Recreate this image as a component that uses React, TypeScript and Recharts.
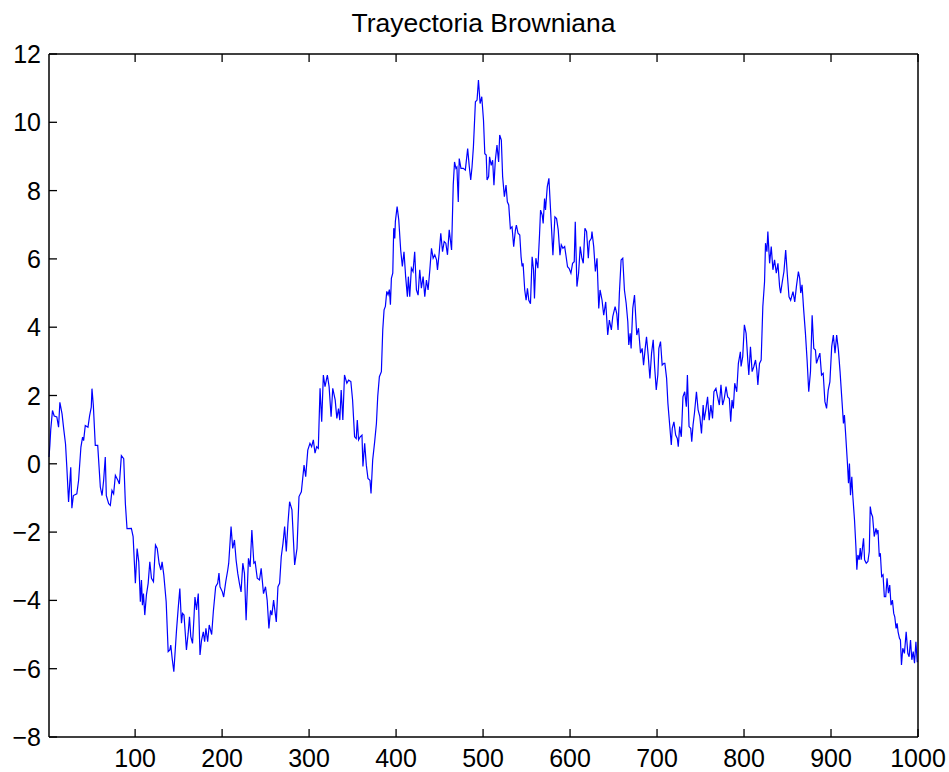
import React from "react";
import { LineChart, Line, XAxis, YAxis } from "recharts";

const steps = [
  1, 2, 3, 5, 7, 10, 12, 13.5, 16, 18, 20, 21.5, 23.5, 26, 27.3, 29, 33, 35, 37.7, 39.6, 40.8, 42.7, 45.8, 47.7, 49.6, 50.4, 52, 54.2, 57, 60, 62, 63.8, 65.7, 66.9, 69.6, 71.5, 73.4, 75.3, 77.3, 80.3, 81.9, 84.2, 86.9, 88.8, 90.7,
  95.7, 97.7, 100.3, 102.3, 104.2, 106, 107.3, 108.4, 109.6, 111.1, 113, 115, 116.9, 118.8, 121.1, 123.4, 125.4, 127.6, 129.6, 131, 133, 135.7, 138, 139.9, 141, 142.6, 144.5, 147.6, 149.5, 151.4, 153.3, 154.5, 156.2, 159, 161, 162.5, 164, 166, 167.6, 168.8, 170.6, 172.6, 174.6, 176.4, 178.4, 179.9, 181.4, 183.4, 185.2, 188, 189.9, 192.6, 194.9, 196.4, 197.6, 200.3, 201.8, 204.2, 206.5,
  207.6, 210.3, 212.2, 214.2, 216.1, 218, 219.9, 221.8, 223.8, 225.7, 227.6, 230.3, 232.2, 234.2, 236.5, 238, 240.4, 243, 244.9, 247.6, 249.9, 251.8, 253.8, 255.7, 257.2, 259.2, 262.3, 264.2, 266.1, 268, 270, 271.9, 273.8, 275.7, 277.6, 280.3, 283.4, 286.1, 288.4, 291.1, 294.2, 296.1,
  298.5, 301, 302.9, 304.9, 306.8, 308.7, 310.6, 312.6, 314.5, 316.4, 318.3, 321, 323, 325.3, 327.2, 330, 331.9, 333.8, 335.3, 336.9, 338.8, 340.7, 343.4, 345.4, 348, 350, 352.3, 354.2, 355.4, 356.9, 358.8, 360.8, 361.9, 363.9, 365.8, 367.7, 370, 371.2, 373.1, 375.4, 377.4, 378.9, 380.8, 383.1, 384.7, 386.2, 387.7, 389.3, 390.8, 392.3, 393.5, 394.6, 396.2, 397.3, 398.5, 399.2, 401.2, 403.1, 405.3,
  407.2, 409.1, 411, 413, 414.1, 415.7, 417.6, 419.5, 421.4, 423.4, 425.3, 427.2, 429.1, 431.1, 433, 434.9, 436.8, 438.8, 440.7, 442.6, 444.5, 446.5, 447.6, 449.5, 451.4, 453.4, 455.3, 457.2, 459.1, 461.1, 463.8, 465.7, 467.2, 468.8, 469.9, 471.5, 472.6, 474.6, 477.3, 479.6, 482.3, 484.2, 485.8, 487.3, 488.9, 491.2, 493.1, 494.7, 496.6, 498.5, 500.5,
  502, 503.6, 504.6, 506.4, 507.5, 509.4, 511, 512.5, 514.1, 516, 517.9, 519.1, 521, 522.5, 524.5, 526.4, 527.9, 529.5, 531.4, 533.3, 535.2, 537.2, 538.3, 540.2, 542.2, 543.7, 544.9, 546, 547.9, 549.5, 551, 552.6, 554.5, 556.4, 558, 559.1, 560.7, 563, 564.9, 566.1, 568, 569.1, 570.7, 571.8, 573.8, 575.7, 577.6, 580.3, 582.6, 584.5, 586.4, 588.4, 589.9, 591.8, 593.8, 595.3,
  597.1, 599, 601, 602.9, 604.8, 606, 607.9, 609.8, 611.7, 613.6, 615.2, 617.1, 619, 621, 622.2, 624.5, 625.2, 627.2, 629.1, 631, 633, 634.5, 636.8, 638.7, 641, 643.3, 645.2, 647.5, 649.1, 651.8, 653.7, 655.2, 656.7, 658.7, 660.6, 662.5, 664.5, 666.4, 667.5, 669.1, 670.2, 672.1, 674.1, 676.7, 678.7, 681, 682.9, 684.5, 686.4, 687.9, 689.8, 691.8, 693.7,
  695.6, 697.2, 699.1, 700.9, 702.1, 704, 705.9, 707.9, 709, 711, 712.5, 714.4, 716.4, 717.5, 719.4, 721.4, 723.3, 724.4, 726, 727.9, 729.8, 731.8, 733.7, 734.9, 736.8, 738.7, 739.9, 741.4, 743, 745.3, 747.2, 749.2, 751.1, 753, 754.2, 756.1, 758.1, 760, 761.9, 763.8, 765.4, 767.7, 769.6, 771.6, 773.5, 775.4, 777.3, 779.3, 781.2, 783.1, 784.7, 786.2, 787.7, 789.3, 791.6, 793.5, 795.8,
  796.6, 798.5, 800.4, 802.4, 804.3, 805.5, 807.4, 809.3, 811.3, 813.2, 814.7, 815.9, 817.8, 819.7, 821.6, 823.6, 824.7, 826.3, 827.4, 829.4, 831.3, 833.2, 835.1, 837.1, 839, 840.9, 842.1, 844, 845.9, 847.9, 849.8, 851.7, 853.6, 856.3, 858.3, 860.2, 862.5, 864, 865.2, 866.7, 868.6, 870.6, 872.5, 874.4, 876.4, 878.3, 880.2, 882.1, 883.3, 885.2, 887.2, 889.1, 891, 893, 894.9, 896.8, 898.7, 900.8,
  902.7, 904.6, 906.5, 908.5, 910.4, 912.3, 914.3, 915.4, 917, 918.9, 920.1, 921.2, 922.4, 923.9, 925.1, 927, 928.6, 929.7, 930.9, 932.4, 933.6, 934.7, 936.3, 937.4, 938.6, 940.5, 942.4, 944, 945.1, 946.3, 947.8, 949.7, 951.7, 952.8, 954, 955.5, 956.7, 958.2, 959.8, 961.3, 962.9, 964.4, 966, 967.5, 969, 970.6, 972.1, 973.3, 974.8, 976, 977.1, 978.7, 979.8, 981, 982.5, 984.4, 986.4, 988.3, 989.8, 991.4, 992.9, 994.5, 996, 997.6, 999.1, 1000,
];

const positions = [
  0.2, 0.54, 1.0, 1.56, 1.4, 1.37, 1.07, 1.8, 1.46, 1.0, 0.58, -0.1, -1.12, -0.1, -1.3, -0.93, -0.88, -0.49, 0.49, 0.78, 0.68, 1.12, 1.07, 1.41, 1.66, 2.2, 1.7, 0.54, 0.54, -0.68, -0.93, -0.49, 0.2, -0.93, -1.17, -1.22, -0.78, -0.88, -0.34, -0.49, -0.59, 0.24, 0.15, -1.17, -1.9,
  -1.89, -2.13, -3.5, -2.48, -2.87, -4.04, -3.4, -4.14, -3.8, -4.43, -3.84, -3.5, -2.87, -3.35, -3.45, -2.38, -2.48, -2.92, -3.11, -2.87, -3.26, -4.04, -5.5, -5.45, -5.31, -5.7, -6.09, -4.87, -4.24, -3.65, -4.67, -4.38, -4.43, -5.45, -4.96, -4.48, -5.06, -5.26, -4.53, -3.9, -4.28, -3.8, -5.6, -5.16, -4.92, -5.21, -4.82, -5.21, -4.72, -5.0, -4.33, -3.6, -3.5, -3.2, -3.6, -3.75, -3.9, -3.45, -3.11,
  -2.91, -1.84, -2.48, -2.23, -2.82, -3.21, -3.5, -3.75, -2.91, -3.21, -4.58, -2.77, -3.02, -1.94, -2.91, -2.87, -3.35, -3.4, -3.06, -3.8, -3.6, -3.99, -4.82, -4.29, -4.43, -3.99, -4.63, -3.6, -3.5, -2.72, -2.33, -1.84, -2.57, -1.74, -1.11, -1.35, -2.96, -2.48, -0.96, -0.82, -0.04, -0.38,
  0.4, 0.6, 0.5, 0.7, 0.31, 0.5, 0.45, 2.21, 1.23, 2.6, 2.26, 2.6, 2.26, 1.38, 2.21, 1.87, 1.33, 1.62, 1.28, 2.16, 1.28, 2.6, 2.36, 2.45, 2.41, 1.87, 0.79, 0.74, 1.28, 0.7, 0.79, 0.84, -0.08, 0.6, -0.04, -0.43, -0.48, -0.87, 0.11, 0.65, 1.18, 1.97, 2.55, 2.7, 3.93, 4.51, 4.61, 5.05, 4.95, 5.1, 4.66, 5.43, 5.58, 6.9, 6.6, 7.1, 7.53, 7.14, 6.26,
  5.78, 6.21, 5.48, 4.89, 5.48, 4.89, 5.73, 5.63, 6.21, 5.09, 4.94, 5.68, 5.14, 5.48, 4.89, 5.38, 5.09, 5.68, 6.31, 6.02, 6.12, 5.97, 5.68, 6.16, 6.75, 6.21, 6.51, 6.46, 6.12, 6.85, 6.26, 8.16, 8.84, 8.65, 8.69, 7.67, 8.94, 8.65, 8.65, 8.6, 9.23, 8.69, 8.31, 8.69, 9.28, 10.6, 10.65, 11.24, 10.55, 10.75, 10.06,
  9.08, 9.04, 8.31, 8.41, 8.99, 8.74, 8.89, 8.16, 8.89, 9.33, 8.84, 9.63, 9.48, 8.41, 7.82, 8.16, 7.67, 7.58, 6.89, 6.94, 6.36, 6.85, 6.99, 6.75, 6.7, 6.06, 5.78, 5.87, 5.09, 4.79, 5.14, 4.79, 4.69, 6.06, 5.68, 4.84, 6.02, 5.73, 6.7, 7.43, 7.28, 7.04, 7.77, 7.43, 8.11, 8.36, 7.43, 6.11, 7.23, 7.18, 6.85, 6.11, 6.41, 6.31, 6.36, 6.1,
  5.77, 5.72, 5.58, 5.87, 5.92, 7.09, 5.19, 5.58, 6.36, 6.02, 5.87, 6.9, 6.8, 6.02, 6.51, 6.6, 6.8, 6.36, 5.63, 6.02, 4.55, 5.09, 4.79, 4.35, 4.74, 3.77, 4.21, 3.92, 4.31, 4.6, 4.4, 3.92, 4.99, 5.97, 6.02, 5.09, 4.7, 4.16, 3.48, 3.82, 3.38, 4.55, 4.94, 3.77, 3.97, 3.24, 3.38, 2.89, 3.38, 3.72, 3.19, 2.5, 3.24,
  3.63, 2.85, 2.16, 2.6, 3.38, 3.58, 2.89, 2.94, 2.94, 2.5, 1.77, 1.18, 0.55, 1.04, 1.23, 0.84, 0.74, 0.5, 1.09, 0.79, 1.96, 2.11, 1.67, 2.6, 1.09, 1.04, 0.65, 1.14, 1.48, 2.11, 1.58, 1.38, 0.89, 1.72, 1.28, 1.58, 1.96, 1.28, 1.72, 1.33, 2.11, 2.21, 1.96, 1.72, 2.31, 1.72, 1.91, 2.26, 1.96, 1.91, 1.23, 1.87, 1.62, 2.36, 2.11, 2.94, 3.28,
  2.85, 3.14, 4.07, 3.82, 3.04, 2.6, 3.43, 2.7, 2.85, 3.04, 2.75, 2.31, 2.94, 3.04, 4.6, 5.33, 6.46, 6.21, 6.8, 5.87, 6.36, 5.68, 5.97, 5.58, 5.87, 5.19, 5.0, 5.33, 5.63, 6.26, 5.53, 4.89, 4.79, 5.04, 4.74, 5.19, 5.63, 5.43, 5.0, 5.24, 4.5, 3.82, 3.04, 2.11, 2.7, 4.35, 3.38, 3.33, 2.94, 3.09, 3.24, 2.6, 2.65, 1.82, 1.62, 2.16, 2.4, 3.43,
  3.77, 3.24, 3.77, 3.33, 2.7, 1.96, 1.18, 1.43, 0.79, 0.01, -0.57, 0.01, -0.92, -0.38, -0.96, -1.64, -2.42, -3.1, -2.67, -2.81, -2.47, -2.81, -2.42, -2.18, -2.81, -2.91, -2.86, -2.57, -1.25, -1.45, -1.55, -2.13, -1.89, -2.03, -1.94, -2.72, -2.62, -3.3, -3.25, -3.89, -3.89, -3.35, -3.79, -3.55, -4.14, -3.99, -4.38, -4.48, -4.82, -4.67, -4.92, -5.11, -5.16, -5.89, -5.4, -5.55, -4.92, -5.55, -5.65, -5.16, -5.74, -5.5, -5.84, -5.21, -5.79, -5.79,
];

const xTicks = [100, 200, 300, 400, 500, 600, 700, 800, 900, 1000];
const yTicks = [-8, -6, -4, -2, 0, 2, 4, 6, 8, 10, 12];
const title = "Trayectoria Browniana";

const data = steps.map((t, i) => ({ t, w: positions[i] }));

const FONT = '"Liberation Sans", Arial, Helvetica, sans-serif';
const TICK_LEN = 8;
const FS = 25;

const fmt = (v: number) => (v < 0 ? "\u2212" + Math.abs(v) : String(v));

// tickSize 1 + tickMargin 7 => label anchor 8px outside the axis line
const LeftTick = (p: any) => (
  <g>
    <line x1={p.x + 8} x2={p.x + 8 + TICK_LEN} y1={p.y} y2={p.y} stroke="#000" strokeWidth={1.3} />
    <text x={p.x} y={p.y} dy="0.36em" textAnchor="end" fontFamily={FONT} fontSize={FS} fill="#000">
      {fmt(p.payload.value)}
    </text>
  </g>
);

const BottomTick = (p: any) => (
  <g>
    <line x1={p.x} x2={p.x} y1={p.y - 8} y2={p.y - 8 - TICK_LEN} stroke="#000" strokeWidth={1.3} />
    <text x={p.x} y={p.y + 22} textAnchor="middle" fontFamily={FONT} fontSize={FS} fill="#000">
      {fmt(p.payload.value)}
    </text>
  </g>
);

// tickSize 1 + tickMargin 0 => anchor 1px outside the axis line
const TopTick = (p: any) => (
  <line x1={p.x} x2={p.x} y1={p.y + 1} y2={p.y + 1 + TICK_LEN} stroke="#000" strokeWidth={1.3} />
);

const RightTick = (p: any) => (
  <line x1={p.x - 1} x2={p.x - 1 - TICK_LEN} y1={p.y} y2={p.y} stroke="#000" strokeWidth={1.3} />
);

const axisLine = { stroke: "#000", strokeWidth: 1.5 };

export default function App() {
  return (
    <div style={{ position: "absolute", left: 0, top: 0, width: 949, height: 772, background: "#fff" }}>
      <div
        style={{
          position: "absolute",
          left: 49,
          width: 869,
          top: 10,
          textAlign: "center",
          fontFamily: FONT,
          fontSize: 26.5,
          lineHeight: "26px",
          color: "#000",
          whiteSpace: "nowrap",
        }}
      >
        {title}
      </div>
      <LineChart width={949} height={772} data={data} margin={{ top: 53, right: 30, left: 0, bottom: 0 }}>
        <XAxis
          xAxisId="bottom"
          dataKey="t"
          type="number"
          domain={[1, 1000]}
          ticks={xTicks}
          interval={0}
          height={35}
          tickSize={1}
          tickMargin={7}
          tickLine={false}
          axisLine={axisLine}
          tick={BottomTick}
        />
        <XAxis
          xAxisId="top"
          orientation="top"
          dataKey="t"
          type="number"
          domain={[1, 1000]}
          ticks={xTicks}
          interval={0}
          height={1}
          tickSize={1}
          tickMargin={0}
          tickLine={false}
          axisLine={axisLine}
          tick={TopTick}
        />
        <YAxis
          yAxisId="left"
          type="number"
          domain={[-8, 12]}
          ticks={yTicks}
          interval={0}
          width={49}
          tickSize={1}
          tickMargin={7}
          tickLine={false}
          axisLine={axisLine}
          tick={LeftTick}
        />
        <YAxis
          yAxisId="right"
          orientation="right"
          type="number"
          domain={[-8, 12]}
          ticks={yTicks}
          interval={0}
          width={1}
          tickSize={1}
          tickMargin={0}
          tickLine={false}
          axisLine={axisLine}
          tick={RightTick}
        />
        <Line
          xAxisId="bottom"
          yAxisId="left"
          type="linear"
          dataKey="w"
          stroke="#0000ff"
          strokeWidth={1.2}
          dot={false}
          isAnimationActive={false}
        />
      </LineChart>
    </div>
  );
}
